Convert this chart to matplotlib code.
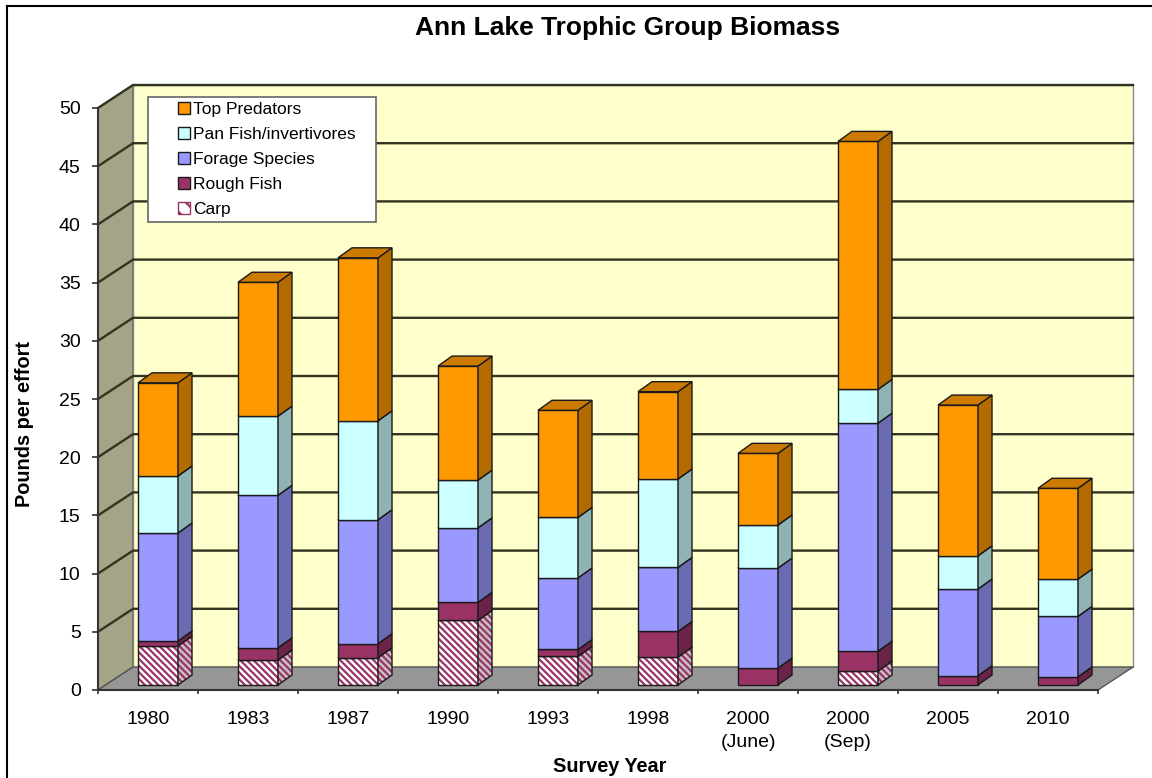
import matplotlib.pyplot as plt
from matplotlib.patches import Patch, Polygon, Rectangle
from matplotlib.lines import Line2D

plt.rcParams['font.family'] = ['Liberation Sans', 'DejaVu Sans']
plt.rcParams['hatch.linewidth'] = 1.6

years = ["1980", "1983", "1987", "1990", "1993", "1998",
         "2000\n(June)", "2000\n(Sep)", "2005", "2010"]

# pounds per effort, bottom of the stack first
carp = [3.35, 2.15, 2.35, 5.55, 2.45, 2.4, 0.0, 1.2, 0.0, 0.0]
rough_fish = [0.43, 1.05, 1.2, 1.55, 0.6, 2.2, 1.45, 1.7, 0.8, 0.7]
forage = [9.28, 13.1, 10.65, 6.4, 6.15, 5.5, 8.6, 19.6, 7.45, 5.2]
pan_fish = [4.9, 6.8, 8.5, 4.1, 5.2, 7.6, 3.7, 2.9, 2.85, 3.2]
top_predators = [8.0, 11.5, 14.0, 9.8, 9.2, 7.5, 6.15, 21.3, 12.95, 7.8]

CARP_HATCH = "\\\\\\\\\\"

series = [
    ("Carp", carp, "white", "#c8c0c4", "#d0d0d0"),
    ("Rough Fish", rough_fish, "#993366", "#6b2447", "#7a2952"),
    ("Forage Species", forage, "#9999ff", "#6b6bb3", "#7a7acc"),
    ("Pan Fish/invertivores", pan_fish, "#ccffff", "#8fb3b3", "#a3cccc"),
    ("Top Predators", top_predators, "#ff9900", "#b36b00", "#cc7a00"),
]

W, H = 1152, 778
fig = plt.figure(figsize=(W / 100, H / 100), dpi=100)
ax = fig.add_axes([98 / W, (H - 690) / H, 1000 / W, 582 / H])
ax.set_xlim(0, 10)
ax.set_ylim(0, 50)
ax.patch.set_visible(False)

px = 10 / 1000    # one pixel in x data units
py = 50 / 582     # one pixel in y data units
BX, BY = 35 * px, 23 * py      # depth of the walls
DX, DY = 14 * px, 10 * py      # depth of a column
X0, BW, Y0 = 0.40, 0.40, 5 * py

# walls and floor
ax.add_patch(Polygon([(0, 0), (0, 50), (BX, 50 + BY), (BX, BY)],
                     closed=True, fc="#a5a487", ec="#555555", lw=1, clip_on=False, zorder=0))
ax.add_patch(Polygon([(BX, BY), (BX, 50 + BY), (10 + BX, 50 + BY), (10 + BX, BY)],
                     closed=True, fc="#ffffcc", ec="#888888", lw=1, clip_on=False, zorder=0))
ax.add_patch(Polygon([(0, 0), (10, 0), (10 + BX, BY), (BX, BY)],
                     closed=True, fc="#969696", ec="#555555", lw=1, clip_on=False, zorder=0))

for v in range(5, 55, 5):
    ax.plot([0, BX, 10 + BX], [v, v + BY, v + BY], color="#333322", lw=1.7,
            clip_on=False, zorder=1)

# columns
for i in range(len(years)):
    base = Y0
    x0 = i + X0
    x1 = x0 + BW
    for name, vals, front, side, top in series:
        h = vals[i]
        if h <= 0:
            continue
        y1 = base + h
        hatch = CARP_HATCH if name == "Carp" else None
        ax.bar(x0, h, width=BW, bottom=base, align="edge", color=front,
               edgecolor="#993366" if hatch else front, hatch=hatch, lw=0, zorder=3)
        ax.bar(x0, h, width=BW, bottom=base, align="edge", fill=False,
               edgecolor="#1a1a1a", lw=1, zorder=3)
        side_pts = [(x1, base), (x1 + DX, base + DY), (x1 + DX, y1 + DY), (x1, y1)]
        ax.add_patch(Polygon(side_pts, closed=True, fc=side,
                             ec="#993366" if hatch else side, hatch=hatch, lw=0, zorder=3))
        ax.add_patch(Polygon(side_pts, closed=True, fill=False, ec="#1a1a1a", lw=1, zorder=3))
        ax.add_patch(Polygon([(x0, y1), (x1, y1), (x1 + DX, y1 + DY), (x0 + DX, y1 + DY)],
                             closed=True, fc=top, ec="#1a1a1a", lw=1, zorder=3))
        base = y1

# axes
for s in ("top", "right"):
    ax.spines[s].set_visible(False)
for s in ("left", "bottom"):
    ax.spines[s].set_color("#333333")
    ax.spines[s].set_linewidth(1.5)
    ax.spines[s].set_zorder(2)

ax.set_yticks(range(0, 55, 5))
ax.tick_params(axis="y", length=4.5, width=1.2, color="#333333", pad=8, labelsize=14)
ax.set_xticks(range(0, 11))
ax.set_xticklabels([])
ax.tick_params(axis="x", which="major", length=3, width=1.2, color="#333333")
ax.set_xticks([i + 0.5 for i in range(len(years))], years, minor=True)
ax.tick_params(axis="x", which="minor", length=0, pad=15, labelsize=14)
for lab in ax.get_xticklabels(minor=True):
    lab.set_linespacing(1.5)

fig.text(628 / W, 1 - 28 / H, "Ann Lake Trophic Group Biomass", ha="center", va="center",
         fontsize=19, fontweight="bold")
fig.text(25 / W, 1 - 424 / H, "Pounds per effort", ha="center", va="center",
         rotation=90, fontsize=14.3, fontweight="bold")
fig.text(610 / W, 1 - 766 / H, "Survey Year", ha="center", va="center",
         fontsize=14.3, fontweight="bold")

# legend box
fig.patches.append(Rectangle((148 / W, 1 - 222 / H), 228 / W, 125 / H,
                             transform=fig.transFigure, fc="white", ec="#666666",
                             lw=1.2, zorder=4))
handles = [Patch(fc=front, ec="#1a1a1a", lw=1) for name, vals, front, side, top in series]
handles[0] = Patch(fc="white", ec="#993366", lw=1, hatch="\\\\")
labels = [name for name, *_ in series]
leg = fig.legend(handles[::-1], labels[::-1], loc="upper left",
                 bbox_to_anchor=(178 / W, 1 - 102 / H),
                 frameon=False, fontsize=12.5, handlelength=0.7, handleheight=0.7,
                 handletextpad=0.15, labelspacing=0.56, borderaxespad=0, borderpad=0)
leg.set_zorder(5)

# outer frame
fig.add_artist(Line2D([7 / W, 7 / W], [0, 1 - 6 / H], transform=fig.transFigure,
                      color="black", lw=1.5))
fig.add_artist(Line2D([7 / W, 1], [1 - 6 / H, 1 - 6 / H], transform=fig.transFigure,
                      color="black", lw=1.5))

fig.savefig("out.png", dpi=100)
